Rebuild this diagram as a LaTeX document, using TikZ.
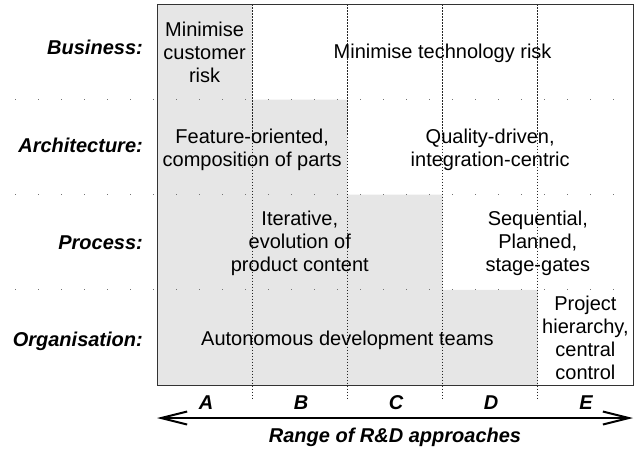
\documentclass[tikz,border=0pt]{standalone}
\usepackage{fontspec}
\setmainfont{Liberation Sans}
\usetikzlibrary{arrows.meta}
\definecolor{cellgrey}{RGB}{230,230,230}

\begin{document}
\begin{tikzpicture}[
  x=1pt, y=-1pt,
  every node/.style={font=\fontsize{20}{23}\selectfont},
  cell/.style    ={align=center, inner sep=0pt},
  rowlabel/.style={anchor=east, inner sep=0pt,
                   font=\fontsize{20}{23}\selectfont\bfseries\itshape},
  collabel/.style={inner sep=0pt,
                   font=\fontsize{20}{23}\selectfont\bfseries\itshape},
  coldiv/.style  ={black!85, line width=0.8pt, dash pattern=on 1.5pt off 1.5pt},
  rowdiv/.style  ={black!55, line width=1.2pt, dash pattern=on 1.2pt off 21.8pt},
  frame/.style   ={black!80, line width=1pt},
  arr/.style={{Straight Barb[length=26pt,width=13pt]}-{Straight Barb[length=26pt,width=13pt]},
              line width=2pt},
]
\useasboundingbox (0,0) rectangle (644,449);

% shaded staircase and grid
\fill[cellgrey] (157,4.5) -| (252.2,99.6) -| (347.4,194.7) -| (442.6,289.8)
                -| (537.8,385) -- (157,385) -- cycle;
\foreach \y in {99.6,194.7,289.8}
  \draw[rowdiv] (15,\y) -- (633,\y);
\foreach \x in {252.2,347.4,442.6,537.8}
  \draw[coldiv] (\x,4.5) -- (\x,400);
\draw[frame] (157,4.5) rectangle (633,385);

% row labels
\node[rowlabel] (biz)  at (143,47)  {Business:};
\node[rowlabel] (arch) at (143,145) {Architecture:};
\node[rowlabel] (proc) at (143,243) {Process:};
\node[rowlabel] (org)  at (143,341) {Organisation:};

% cell texts
\node[cell] (bizA)   at (204.6,52)  {Minimise\\customer\\risk};
\node[cell] (bizBE)  at (442.6,53)  {Minimise technology risk};
\node[cell] (archAB) at (252.2,150) {Feature-oriented,\\composition of parts};
\node[cell] (archCE) at (490.2,150) {Quality-driven,\\integration-centric};
\node[cell] (procAC) at (299.8,243) {Iterative,\\evolution of\\product content};
\node[cell] (procDE) at (537.8,243) {Sequential,\\Planned,\\stage-gates};
\node[cell] (orgAD)  at (347.4,340) {Autonomous development teams};
\node[cell] (orgE)   at (585.4,338) {Project\\hierarchy,\\central\\control};

% column letters and range arrow
\node[collabel] (colA) at (206,403) {A};
\node[collabel] (colB) at (301,403) {B};
\node[collabel] (colC) at (396,403) {C};
\node[collabel] (colD) at (491,403) {D};
\node[collabel] (colE) at (586,403) {E};

\coordinate (rngL) at (157,418);
\coordinate (rngR) at (633,418);
\draw[arr] (rngL) -- (rngR);
\node[collabel] (rng) at (395,437) {Range of R\&D approaches};

\end{tikzpicture}
\end{document}
